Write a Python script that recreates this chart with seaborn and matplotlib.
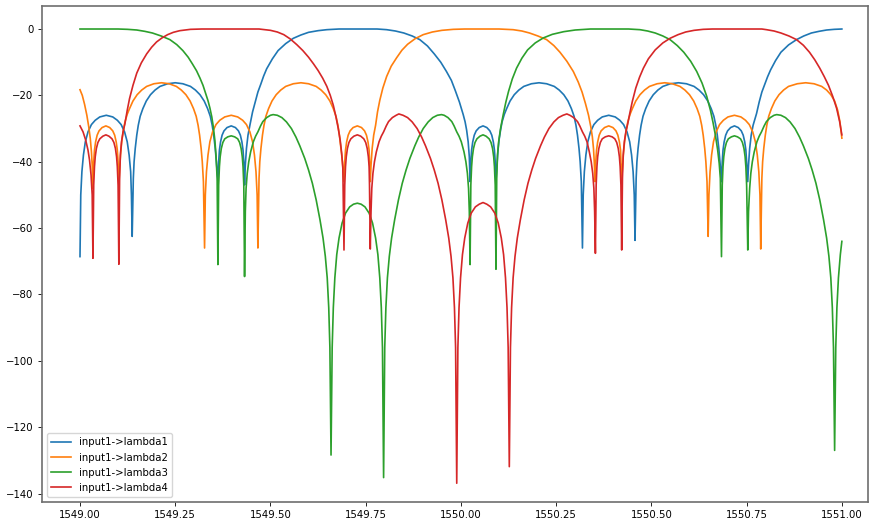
import numpy as np
import pandas as pd
import seaborn as sns
import matplotlib
matplotlib.use('Agg')
import matplotlib.pyplot as plt

# transmission spectra: (wavelength nm, dB)
lambda1 = [
    (1549.000, -68.6), (1549.002, -50), (1549.005, -43), (1549.009, -38), (1549.014, -34),
    (1549.021, -31.0), (1549.030, -28.8), (1549.040, -27.5), (1549.052, -26.5), (1549.069, -26.0),
    (1549.086, -26.5), (1549.098, -27.5), (1549.108, -28.8), (1549.117, -31.0), (1549.124, -34),
    (1549.129, -38), (1549.133, -43), (1549.135, -50), (1549.137, -62.5),
    (1549.140, -45), (1549.142, -40), (1549.145, -36), (1549.149, -32), (1549.153, -29),
    (1549.158, -26.3), (1549.165, -24), (1549.174, -21.7), (1549.185, -19.8), (1549.197, -18.4),
    (1549.210, -17.3), (1549.230, -16.5), (1549.250, -16.2), (1549.270, -16.5), (1549.290, -17.3),
    (1549.303, -18.4), (1549.315, -19.8), (1549.326, -21.7), (1549.335, -24), (1549.342, -26.3),
    (1549.347, -29), (1549.351, -32), (1549.355, -36), (1549.358, -40), (1549.362, -46),
    (1549.364, -40), (1549.366, -36.5), (1549.369, -34), (1549.373, -32), (1549.378, -30.7),
    (1549.386, -29.7), (1549.397, -29.2), (1549.408, -29.7), (1549.416, -30.7), (1549.421, -32),
    (1549.425, -34), (1549.428, -36.5), (1549.430, -40), (1549.432, -47),
    (1549.434, -41), (1549.437, -36), (1549.441, -32), (1549.446, -29), (1549.453, -25),
    (1549.460, -22), (1549.467, -19), (1549.475, -16.5), (1549.482, -14.2), (1549.490, -12),
    (1549.505, -9), (1549.520, -6.5), (1549.540, -4.4), (1549.560, -2.8), (1549.580, -1.8),
    (1549.600, -1.0), (1549.625, -0.5), (1549.648, -0.2), (1549.680, 0.0), (1549.780, 0.0),
    (1549.805, -0.2), (1549.828, -0.6), (1549.850, -1.2), (1549.872, -2.1), (1549.892, -3.2),
    (1549.912, -5.1), (1549.930, -7.5), (1549.947, -10), (1549.962, -12.8), (1549.975, -15.5),
    (1549.985, -18.5), (1549.996, -22), (1550.006, -25.8), (1550.011, -28), (1550.015, -30.5),
    (1550.019, -34), (1550.022, -38.5), (1550.024, -46),
    (1550.026, -40), (1550.028, -36.5), (1550.031, -34), (1550.035, -32), (1550.040, -30.7),
    (1550.048, -29.7), (1550.058, -29.2), (1550.068, -29.7), (1550.076, -30.7), (1550.081, -32),
    (1550.085, -34), (1550.088, -36.5), (1550.090, -40), (1550.092, -46),
    (1550.094, -42), (1550.097, -37), (1550.100, -33.5), (1550.104, -30.5), (1550.108, -28),
    (1550.114, -25.7), (1550.120, -24), (1550.129, -21.7), (1550.140, -19.8), (1550.152, -18.4),
    (1550.165, -17.3), (1550.185, -16.5), (1550.205, -16.2), (1550.225, -16.5), (1550.245, -17.3),
    (1550.258, -18.4), (1550.270, -19.8), (1550.281, -21.7), (1550.290, -24), (1550.297, -26.3),
    (1550.302, -29), (1550.306, -32), (1550.310, -36), (1550.313, -40), (1550.316, -46),
    (1550.319, -66),
    (1550.321, -50), (1550.324, -43), (1550.328, -38), (1550.333, -34), (1550.340, -31),
    (1550.349, -28.8), (1550.359, -27.5), (1550.371, -26.5), (1550.388, -26.0), (1550.405, -26.5),
    (1550.417, -27.5), (1550.427, -28.8), (1550.436, -31), (1550.443, -34), (1550.448, -38),
    (1550.452, -43), (1550.455, -50), (1550.457, -63.7),
    (1550.460, -45), (1550.462, -40), (1550.465, -36), (1550.469, -32), (1550.473, -29),
    (1550.478, -26.3), (1550.485, -24), (1550.494, -21.7), (1550.505, -19.8), (1550.517, -18.4),
    (1550.530, -17.3), (1550.550, -16.5), (1550.571, -16.2), (1550.592, -16.5), (1550.612, -17.3),
    (1550.625, -18.4), (1550.637, -19.8), (1550.648, -21.7), (1550.657, -24), (1550.664, -26.3),
    (1550.669, -29), (1550.673, -32), (1550.677, -36), (1550.680, -40), (1550.684, -46),
    (1550.686, -40), (1550.688, -36.5), (1550.691, -34), (1550.695, -32), (1550.700, -30.7),
    (1550.708, -29.7), (1550.718, -29.2), (1550.728, -29.7), (1550.736, -30.7), (1550.741, -32),
    (1550.745, -34), (1550.748, -36.5), (1550.750, -40), (1550.753, -46),
    (1550.755, -41), (1550.758, -36), (1550.762, -32), (1550.767, -29), (1550.776, -25.5),
    (1550.783, -22), (1550.790, -19), (1550.798, -16.5), (1550.805, -14.4), (1550.813, -12.3),
    (1550.826, -9.5), (1550.840, -7), (1550.860, -4.8), (1550.881, -3.2), (1550.900, -2.1),
    (1550.920, -1.2), (1550.940, -0.7), (1550.960, -0.3), (1550.980, -0.1), (1551.000, 0.0),
]

lambda2 = [
    (1549.000, -18.3), (1549.006, -20), (1549.012, -22.7), (1549.018, -26), (1549.023, -29.5),
    (1549.027, -33), (1549.030, -37), (1549.032, -41), (1549.034, -48),
    (1549.036, -40), (1549.038, -36.5), (1549.041, -34), (1549.045, -32), (1549.050, -30.7),
    (1549.058, -29.7), (1549.068, -29.2), (1549.078, -29.7), (1549.086, -30.7), (1549.091, -32),
    (1549.095, -34), (1549.098, -36.5), (1549.100, -40), (1549.102, -48),
    (1549.104, -42), (1549.107, -37), (1549.110, -33.5), (1549.114, -30.5), (1549.118, -28),
    (1549.124, -25.7), (1549.130, -24), (1549.139, -21.7), (1549.150, -19.8), (1549.162, -18.4),
    (1549.175, -17.3), (1549.194, -16.5), (1549.214, -16.2), (1549.234, -16.5), (1549.253, -17.3),
    (1549.266, -18.4), (1549.278, -19.8), (1549.289, -21.7), (1549.298, -24), (1549.305, -26.3),
    (1549.310, -29), (1549.314, -32), (1549.318, -36), (1549.321, -40), (1549.324, -46),
    (1549.327, -66),
    (1549.329, -50), (1549.332, -43), (1549.336, -38), (1549.341, -34), (1549.348, -31),
    (1549.357, -28.8), (1549.367, -27.5), (1549.380, -26.5), (1549.397, -26.0), (1549.414, -26.5),
    (1549.427, -27.5), (1549.437, -28.8), (1549.446, -31), (1549.453, -34), (1549.458, -38),
    (1549.462, -43), (1549.465, -50), (1549.467, -66),
    (1549.470, -45), (1549.472, -40), (1549.475, -36), (1549.479, -32), (1549.483, -29),
    (1549.488, -26.3), (1549.495, -24), (1549.504, -21.7), (1549.515, -19.8), (1549.527, -18.4),
    (1549.540, -17.3), (1549.560, -16.5), (1549.580, -16.2), (1549.600, -16.5), (1549.620, -17.3),
    (1549.633, -18.4), (1549.645, -19.8), (1549.656, -21.7), (1549.665, -24), (1549.672, -26.3),
    (1549.677, -29), (1549.681, -32), (1549.685, -36), (1549.689, -40), (1549.693, -46),
    (1549.695, -40), (1549.697, -36.5), (1549.700, -34), (1549.704, -32), (1549.709, -30.7),
    (1549.717, -29.7), (1549.728, -29.2), (1549.739, -29.7), (1549.747, -30.7), (1549.752, -32),
    (1549.756, -34), (1549.759, -36.5), (1549.760, -40), (1549.762, -46),
    (1549.764, -41), (1549.767, -36), (1549.771, -32), (1549.776, -29), (1549.781, -25),
    (1549.787, -21.5), (1549.795, -17.8), (1549.805, -14.3), (1549.817, -11.2), (1549.831, -8.7),
    (1549.845, -6.4), (1549.860, -4.6), (1549.880, -2.9), (1549.901, -1.7), (1549.925, -0.9),
    (1549.950, -0.4), (1549.980, -0.1), (1550.010, 0.0), (1550.100, 0.0), (1550.137, -0.2),
    (1550.160, -0.6), (1550.180, -1.2), (1550.202, -2.1), (1550.225, -3.2), (1550.244, -5),
    (1550.260, -7), (1550.278, -9.7), (1550.295, -12.8), (1550.308, -16), (1550.318, -19),
    (1550.327, -22.5), (1550.335, -26), (1550.341, -29.5), (1550.345, -32.5), (1550.348, -36),
    (1550.350, -40), (1550.352, -46),
    (1550.354, -40), (1550.356, -36.5), (1550.359, -34), (1550.363, -32), (1550.368, -30.7),
    (1550.377, -29.7), (1550.388, -29.2), (1550.399, -29.7), (1550.407, -30.7), (1550.412, -32),
    (1550.416, -34), (1550.419, -36.5), (1550.420, -40), (1550.422, -46),
    (1550.424, -42), (1550.427, -37), (1550.430, -33.5), (1550.434, -30.5), (1550.438, -28),
    (1550.444, -25.7), (1550.450, -24), (1550.459, -21.7), (1550.470, -19.8), (1550.482, -18.4),
    (1550.495, -17.3), (1550.515, -16.5), (1550.535, -16.2), (1550.555, -16.5), (1550.575, -17.3),
    (1550.588, -18.4), (1550.600, -19.8), (1550.611, -21.7), (1550.620, -24), (1550.627, -26.3),
    (1550.632, -29), (1550.636, -32), (1550.640, -36), (1550.643, -40), (1550.646, -46),
    (1550.649, -62.5),
    (1550.651, -50), (1550.654, -43), (1550.658, -38), (1550.663, -34), (1550.670, -31),
    (1550.679, -28.8), (1550.689, -27.5), (1550.701, -26.5), (1550.718, -26.0), (1550.735, -26.5),
    (1550.747, -27.5), (1550.757, -28.8), (1550.766, -31), (1550.773, -34), (1550.778, -38),
    (1550.782, -43), (1550.785, -50), (1550.787, -66.3),
    (1550.790, -45), (1550.792, -40), (1550.795, -36), (1550.799, -32), (1550.803, -29),
    (1550.808, -26.3), (1550.815, -24), (1550.824, -21.7), (1550.835, -19.8), (1550.847, -18.4),
    (1550.860, -17.3), (1550.883, -16.5), (1550.905, -16.2), (1550.927, -16.5), (1550.947, -17.3),
    (1550.960, -18.4), (1550.971, -19.8), (1550.981, -21.7), (1550.989, -24.5), (1550.995, -28),
    (1551.000, -32.9),
]

lambda3 = [
    (1549.000, 0.0), (1549.100, 0.0), (1549.125, -0.1), (1549.149, -0.3), (1549.170, -0.7),
    (1549.190, -1.2), (1549.213, -2.1), (1549.236, -3.2), (1549.254, -4.7), (1549.270, -6.5),
    (1549.284, -8.5), (1549.295, -10.5), (1549.306, -12.6), (1549.315, -14.8), (1549.323, -17),
    (1549.330, -19.5), (1549.336, -21.6), (1549.341, -23.8), (1549.346, -26.5), (1549.350, -29.5),
    (1549.354, -33.5), (1549.357, -38), (1549.360, -45), (1549.362, -71),
    (1549.364, -47), (1549.366, -41.5), (1549.368, -38.5), (1549.371, -36), (1549.375, -34.2),
    (1549.380, -33.1), (1549.388, -32.5), (1549.397, -32.2), (1549.406, -32.5), (1549.414, -33.1),
    (1549.419, -34.2), (1549.423, -36), (1549.426, -38.5), (1549.428, -41.5), (1549.430, -47),
    (1549.432, -74.6),
    (1549.434, -55), (1549.436, -48), (1549.439, -43.5), (1549.443, -40), (1549.448, -37),
    (1549.455, -34), (1549.461, -32.3), (1549.467, -31), (1549.474, -29.2), (1549.480, -27.9),
    (1549.490, -26.7), (1549.500, -26), (1549.507, -25.8), (1549.518, -26), (1549.530, -26.7),
    (1549.542, -28), (1549.555, -30), (1549.567, -32.6), (1549.577, -35.2), (1549.590, -39),
    (1549.600, -42.5), (1549.610, -46.5), (1549.620, -51.5), (1549.630, -57.5), (1549.638, -63),
    (1549.644, -68.5), (1549.649, -75), (1549.653, -84), (1549.656, -96), (1549.659, -128.4),
    (1549.662, -96), (1549.665, -84), (1549.669, -75), (1549.674, -68), (1549.680, -63),
    (1549.688, -58.5), (1549.697, -55.5), (1549.708, -53.6), (1549.718, -52.8), (1549.728, -52.5),
    (1549.738, -52.8), (1549.748, -53.6), (1549.759, -55.5), (1549.768, -58.5), (1549.776, -63),
    (1549.782, -68), (1549.787, -75), (1549.791, -84), (1549.794, -96), (1549.797, -135.2),
    (1549.800, -96), (1549.803, -84), (1549.807, -75), (1549.812, -68.5), (1549.818, -63),
    (1549.826, -57.5), (1549.836, -51.5), (1549.846, -46.5), (1549.856, -42.5), (1549.866, -39),
    (1549.879, -35.2), (1549.889, -32.6), (1549.901, -30), (1549.914, -28), (1549.926, -26.7),
    (1549.938, -26), (1549.949, -25.8), (1549.956, -26), (1549.966, -26.7), (1549.976, -27.9),
    (1549.982, -29.2), (1549.989, -31), (1549.995, -32.3), (1550.001, -34), (1550.008, -37),
    (1550.013, -40), (1550.017, -43.5), (1550.020, -48), (1550.022, -55), (1550.024, -71),
    (1550.026, -47), (1550.028, -41.5), (1550.030, -38.5), (1550.033, -36), (1550.037, -34.2),
    (1550.042, -33.1), (1550.050, -32.3), (1550.058, -31.9), (1550.066, -32.3), (1550.074, -33.1),
    (1550.079, -34.2), (1550.083, -36), (1550.086, -38.5), (1550.088, -41.5), (1550.090, -47),
    (1550.092, -72.4),
    (1550.094, -45), (1550.096, -38), (1550.099, -34), (1550.104, -30), (1550.111, -25.8),
    (1550.118, -22), (1550.125, -18.8), (1550.135, -15), (1550.146, -11.8), (1550.160, -8.8),
    (1550.175, -6.3), (1550.195, -4.2), (1550.216, -2.7), (1550.240, -1.6), (1550.270, -0.8),
    (1550.300, -0.3), (1550.340, 0.0), (1550.440, 0.0), (1550.470, -0.2), (1550.490, -0.6),
    (1550.510, -1.2), (1550.530, -2.1), (1550.549, -3.2), (1550.568, -5), (1550.585, -7),
    (1550.603, -9.7), (1550.619, -12.8), (1550.633, -16.3), (1550.645, -20.2), (1550.655, -24.5),
    (1550.662, -28.3), (1550.668, -32), (1550.674, -36.5), (1550.678, -40.5), (1550.681, -45),
    (1550.684, -68.6),
    (1550.686, -47), (1550.688, -41.5), (1550.690, -38.5), (1550.693, -36), (1550.697, -34.2),
    (1550.702, -33.1), (1550.710, -32.5), (1550.718, -32.2), (1550.726, -32.5), (1550.734, -33.1),
    (1550.739, -34.2), (1550.743, -36), (1550.746, -38.5), (1550.748, -41.5), (1550.750, -47),
    (1550.753, -66.6),
    (1550.755, -55), (1550.758, -48), (1550.761, -43.5), (1550.765, -40), (1550.770, -37),
    (1550.777, -34), (1550.783, -32.3), (1550.789, -31), (1550.796, -29.2), (1550.802, -27.9),
    (1550.812, -26.7), (1550.822, -26), (1550.829, -25.8), (1550.840, -26), (1550.852, -26.7),
    (1550.864, -28), (1550.877, -30), (1550.889, -32.6), (1550.899, -35.2), (1550.912, -39),
    (1550.922, -42.5), (1550.932, -46.5), (1550.942, -51.5), (1550.952, -57.5), (1550.960, -63),
    (1550.966, -68.5), (1550.971, -75), (1550.975, -84), (1550.978, -96), (1550.981, -127),
    (1550.984, -96), (1550.987, -84), (1550.991, -75), (1550.996, -68), (1551.000, -64),
]

lambda4 = [
    (1549.000, -29.2), (1549.008, -31), (1549.015, -33.5), (1549.021, -36.5), (1549.025, -39.5),
    (1549.029, -44), (1549.032, -50), (1549.034, -69.1),
    (1549.036, -47), (1549.038, -41.5), (1549.040, -38.5), (1549.043, -36), (1549.047, -34.2),
    (1549.052, -33.1), (1549.060, -32.3), (1549.068, -31.9), (1549.076, -32.3), (1549.084, -33.1),
    (1549.089, -34.2), (1549.093, -36), (1549.096, -38.5), (1549.098, -41.5), (1549.100, -47),
    (1549.102, -70.9),
    (1549.104, -45), (1549.106, -38), (1549.109, -34), (1549.113, -31), (1549.118, -28.5),
    (1549.124, -24.5), (1549.130, -21), (1549.139, -17), (1549.149, -13.3), (1549.161, -10.2),
    (1549.175, -7.5), (1549.188, -5.5), (1549.201, -3.9), (1549.215, -2.7), (1549.230, -1.7),
    (1549.245, -1.0), (1549.262, -0.5), (1549.290, -0.1), (1549.320, 0.0), (1549.470, 0.0),
    (1549.500, -0.4), (1549.518, -0.9), (1549.535, -1.7), (1549.552, -3.0), (1549.569, -4.7),
    (1549.585, -6.5), (1549.600, -8.5), (1549.613, -10.5), (1549.625, -12.5), (1549.637, -14.8),
    (1549.648, -17.3), (1549.657, -20), (1549.665, -23), (1549.672, -26.5), (1549.678, -30),
    (1549.683, -33.5), (1549.687, -37.5), (1549.690, -42), (1549.693, -66.6),
    (1549.695, -47), (1549.697, -41.5), (1549.699, -38.5), (1549.702, -36), (1549.706, -34.2),
    (1549.711, -33.1), (1549.719, -32.3), (1549.728, -31.9), (1549.737, -32.3), (1549.745, -33.1),
    (1549.750, -34.2), (1549.754, -36), (1549.757, -38.5), (1549.759, -41.5), (1549.760, -47),
    (1549.762, -66.3),
    (1549.764, -55), (1549.766, -48), (1549.769, -43.5), (1549.773, -40), (1549.778, -37),
    (1549.785, -34), (1549.791, -32.3), (1549.797, -31), (1549.804, -29.2), (1549.810, -27.9),
    (1549.820, -26.7), (1549.830, -26), (1549.837, -25.6), (1549.848, -26), (1549.860, -26.7),
    (1549.872, -28), (1549.885, -30), (1549.897, -32.6), (1549.907, -35.2), (1549.920, -39),
    (1549.930, -42.5), (1549.940, -46.5), (1549.950, -51.5), (1549.960, -57.5), (1549.968, -63),
    (1549.974, -68.5), (1549.979, -75), (1549.983, -84), (1549.986, -96), (1549.989, -136.9),
    (1549.992, -96), (1549.995, -84), (1549.999, -75), (1550.004, -68), (1550.010, -63),
    (1550.018, -58.5), (1550.027, -55.5), (1550.038, -53.6), (1550.048, -52.8), (1550.058, -52.3),
    (1550.068, -52.8), (1550.078, -53.6), (1550.089, -55.5), (1550.098, -58.5), (1550.106, -63),
    (1550.112, -68), (1550.117, -75), (1550.121, -84), (1550.124, -96), (1550.127, -131.9),
    (1550.130, -96), (1550.133, -84), (1550.137, -75), (1550.142, -68.5), (1550.148, -63),
    (1550.156, -57.5), (1550.166, -51.5), (1550.176, -46.5), (1550.186, -42.5), (1550.196, -39),
    (1550.209, -35.2), (1550.219, -32.6), (1550.231, -30), (1550.244, -28), (1550.256, -26.7),
    (1550.268, -26), (1550.278, -25.6), (1550.286, -26), (1550.296, -26.7), (1550.306, -27.9),
    (1550.312, -29.2), (1550.319, -31), (1550.325, -32.3), (1550.331, -34), (1550.337, -37),
    (1550.342, -40), (1550.346, -43.5), (1550.349, -48), (1550.351, -55), (1550.353, -67.6),
    (1550.355, -47), (1550.357, -41.5), (1550.359, -38.5), (1550.362, -36), (1550.366, -34.2),
    (1550.371, -33.1), (1550.379, -32.5), (1550.388, -32.2), (1550.397, -32.5), (1550.404, -33.1),
    (1550.409, -34.2), (1550.413, -36), (1550.416, -38.5), (1550.418, -41.5), (1550.420, -47),
    (1550.422, -66.6),
    (1550.424, -45), (1550.426, -38), (1550.429, -34), (1550.433, -31), (1550.438, -28.5),
    (1550.444, -25), (1550.450, -21.8), (1550.459, -17.8), (1550.469, -14.5), (1550.479, -11.8),
    (1550.492, -9), (1550.510, -6.3), (1550.530, -4.2), (1550.549, -2.8), (1550.570, -1.7),
    (1550.590, -0.9), (1550.612, -0.4), (1550.636, -0.1), (1550.660, 0.0), (1550.790, 0.0),
    (1550.802, -0.2), (1550.822, -0.6), (1550.840, -1.2), (1550.861, -2.1), (1550.881, -3.2),
    (1550.899, -4.9), (1550.915, -7), (1550.929, -9.3), (1550.942, -11.8), (1550.954, -14.4),
    (1550.965, -17), (1550.976, -20.3), (1550.986, -23.8), (1550.994, -27.8), (1551.000, -31.9),
]

labels = ['input1->lambda1', 'input1->lambda2', 'input1->lambda3', 'input1->lambda4']
colors = sns.color_palette('tab10', 4)

fig, ax = plt.subplots(figsize=(8.73, 5.26), dpi=100)
fig.subplots_adjust(left=0.048, right=0.994, bottom=0.046, top=0.989)

for series, label, color in zip([lambda1, lambda2, lambda3, lambda4], labels, colors):
    df = pd.DataFrame(series, columns=['wavelength', 'dB'])
    sns.lineplot(data=df, x='wavelength', y='dB', ax=ax, color=color, label=label,
                 linewidth=1.2, sort=False, estimator=None)

ax.set_xlim(1548.9, 1551.068)
ax.set_ylim(-142.5, 7.0)
ax.set_xticks(np.arange(1549.0, 1551.01, 0.25))
ax.set_xlabel('')
ax.set_ylabel('')
ax.tick_params(labelsize=7.3, length=2.6, width=0.6)

for spine in ax.spines.values():
    spine.set_color('#6e6e6e')
    spine.set_linewidth(1.2)

ax.legend(loc='lower left', fontsize=7.3)

plt.savefig('out.png', dpi=100)
